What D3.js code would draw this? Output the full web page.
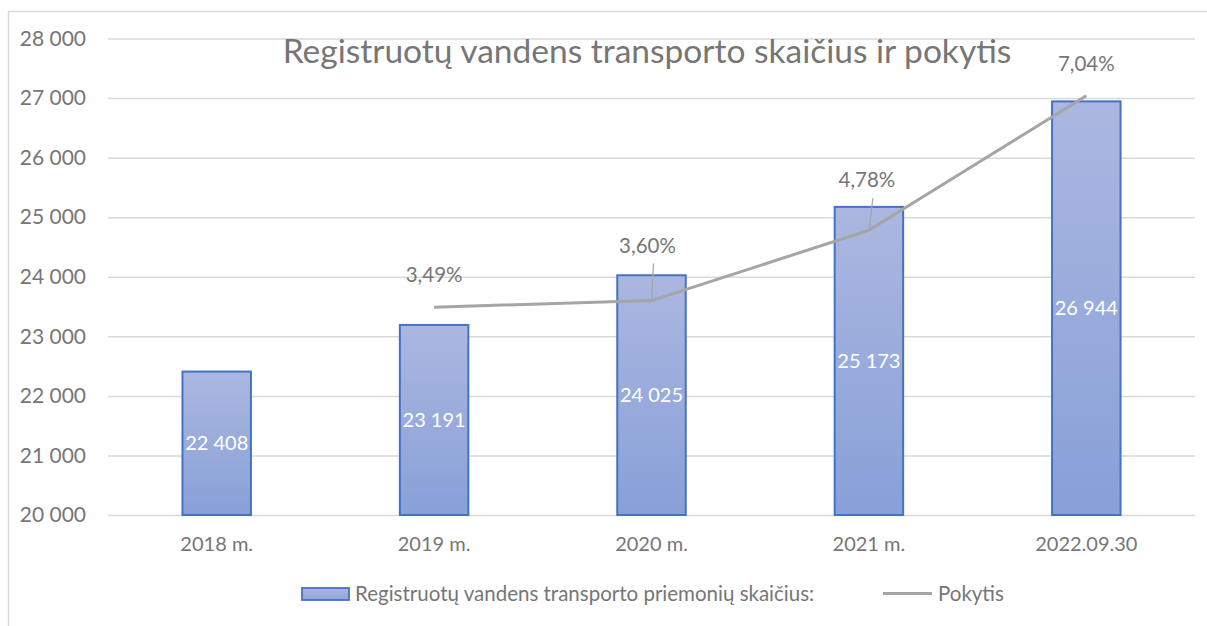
<!DOCTYPE html>
<html>
<head>
<meta charset="utf-8">
<script src="https://cdn.jsdelivr.net/npm/d3@7"></script>
<style>
  body { margin: 0; background: #fff; }
  text { font-family: Lato, "Noto Sans", sans-serif; }
</style>
</head>
<body>
<svg id="chart"></svg>
<script>
// chart data
const years = ["2018 m.", "2019 m.", "2020 m.", "2021 m.", "2022.09.30"]
const counts = [22408, 23191, 24025, 25173, 26944]
const changes = [null, 3.49, 3.60, 4.78, 7.04]
const yTicks = [20000, 21000, 22000, 23000, 24000, 25000, 26000, 27000, 28000]

const title = "Registruotų vandens transporto skaičius ir pokytis"
const barName = "Registruotų vandens transporto priemonių skaičius:"
const lineName = "Pokytis"

// label placement for the % labels (dx, dy from the point, leader line or not)
const pctLabelPos = [null, {dx: 0, dy: -25, lead: false}, {dx: -4, dy: -48, lead: true},
                     {dx: -2, dy: -43, lead: true}, {dx: 0, dy: -25, lead: false}]

const width = 1207, height = 626
const margin = {top: 38.5, right: 12, bottom: 111, left: 108}

const svg = d3.select("#chart")
    .attr("width", width)
    .attr("height", height)

// outer chart frame
svg.append("rect")
    .attr("x", 8.5).attr("y", 11.5)
    .attr("width", width).attr("height", height)
    .attr("fill", "none")
    .attr("stroke", "#d9d9d9")
    .attr("stroke-width", 1.5)

const x = d3.scaleBand()
    .domain(years)
    .range([margin.left, width - margin.right])
    .paddingInner(0).paddingOuter(0)

const y = d3.scaleLinear()
    .domain([20000, 28000])
    .range([height - margin.bottom, margin.top])

// secondary axis for the % line (hidden in the original)
const y2 = d3.scaleLinear()
    .domain([0, 8])
    .range([height - margin.bottom, margin.top])

const fmt = d => d3.format(",")(d).replace(/,/g, " ")

// gradient for bars
const defs = svg.append("defs")
const grad = defs.append("linearGradient")
    .attr("id", "barGrad")
    .attr("x1", 0).attr("y1", 0).attr("x2", 0).attr("y2", 1)
grad.append("stop").attr("offset", "0%").attr("stop-color", "#abb7e0")
grad.append("stop").attr("offset", "100%").attr("stop-color", "#88a0d8")

const gradLeg = defs.append("linearGradient")
    .attr("id", "legGrad")
    .attr("x1", 0).attr("y1", 0).attr("x2", 0).attr("y2", 1)
gradLeg.append("stop").attr("offset", "0%").attr("stop-color", "#abb7e0")
gradLeg.append("stop").attr("offset", "100%").attr("stop-color", "#8fa5da")

// y axis + grid
const yAxis = svg.append("g")
    .attr("transform", `translate(${margin.left},0)`)
    .call(d3.axisLeft(y).tickValues(yTicks).tickFormat(fmt)
        .tickSize(-(width - margin.left - margin.right)).tickPadding(22))
yAxis.select(".domain").remove()
yAxis.selectAll(".tick line")
    .attr("stroke", "#d9d9d9")
    .attr("stroke-width", 1.5)
yAxis.selectAll(".tick text")
    .attr("fill", "#767676")
    .attr("font-size", 21)

// x axis labels
const xAxis = svg.append("g")
    .attr("transform", `translate(0,${height - margin.bottom})`)
    .call(d3.axisBottom(x).tickSize(0).tickPadding(22))
xAxis.select(".domain").remove()
xAxis.selectAll(".tick text")
    .attr("fill", "#767676")
    .attr("font-size", 20)

// bars
const barW = x.bandwidth() * 0.315
svg.append("g")
  .selectAll("rect")
  .data(counts)
  .join("rect")
    .attr("x", (d, i) => x(years[i]) + x.bandwidth() / 2 - barW / 2)
    .attr("y", d => y(d))
    .attr("width", barW)
    .attr("height", d => y(20000) - y(d))
    .attr("fill", "url(#barGrad)")
    .attr("stroke", "#4472c4")
    .attr("stroke-width", 2)

// bar value labels
svg.append("g")
  .selectAll("text")
  .data(counts)
  .join("text")
    .attr("x", (d, i) => x(years[i]) + x.bandwidth() / 2)
    .attr("y", d => (y(d) + y(20000)) / 2)
    .attr("dy", "0.35em")
    .attr("text-anchor", "middle")
    .attr("fill", "#fff")
    .attr("font-size", 20)
    .text(fmt)

// % line
const pts = changes.map((v, i) => ({v, i})).filter(d => d.v != null)
const line = d3.line()
    .x(d => x(years[d.i]) + x.bandwidth() / 2)
    .y(d => y2(d.v))

svg.append("path")
    .datum(pts)
    .attr("d", line)
    .attr("fill", "none")
    .attr("stroke", "#a5a5a5")
    .attr("stroke-width", 3)
    .attr("stroke-linejoin", "round")

// leader lines + % labels
const lab = svg.append("g")
pts.forEach(d => {
  const p = pctLabelPos[d.i]
  const px = x(years[d.i]) + x.bandwidth() / 2
  const py = y2(d.v)
  if (p.lead) {
    lab.append("line")
        .attr("x1", px + p.dx + 6).attr("y1", py + p.dy + 11)
        .attr("x2", px).attr("y2", py)
        .attr("stroke", "#a5a5a5")
        .attr("stroke-width", 1.3)
  }
  lab.append("text")
      .attr("x", px + p.dx)
      .attr("y", py + p.dy)
      .attr("text-anchor", "middle")
      .attr("fill", "#767676")
      .attr("font-size", 20.5)
      .text(d3.format(".2f")(d.v).replace(".", ",") + "%")
})

// title
svg.append("text")
    .attr("x", 647)
    .attr("y", 63)
    .attr("text-anchor", "middle")
    .attr("fill", "#767676")
    .attr("font-size", 33.5)
    .text(title)

// legend
const leg = svg.append("g")
leg.append("rect")
    .attr("x", 302).attr("y", 588)
    .attr("width", 47).attr("height", 12)
    .attr("fill", "url(#legGrad)")
    .attr("stroke", "#4472c4")
    .attr("stroke-width", 1.8)
leg.append("text")
    .attr("x", 355).attr("y", 601)
    .attr("fill", "#767676")
    .attr("font-size", 20.5)
    .text(barName)
leg.append("line")
    .attr("x1", 883).attr("x2", 932)
    .attr("y1", 593.5).attr("y2", 593.5)
    .attr("stroke", "#a5a5a5")
    .attr("stroke-width", 3)
leg.append("text")
    .attr("x", 938).attr("y", 601)
    .attr("fill", "#767676")
    .attr("font-size", 20.5)
    .text(lineName)
</script>
</body>
</html>
